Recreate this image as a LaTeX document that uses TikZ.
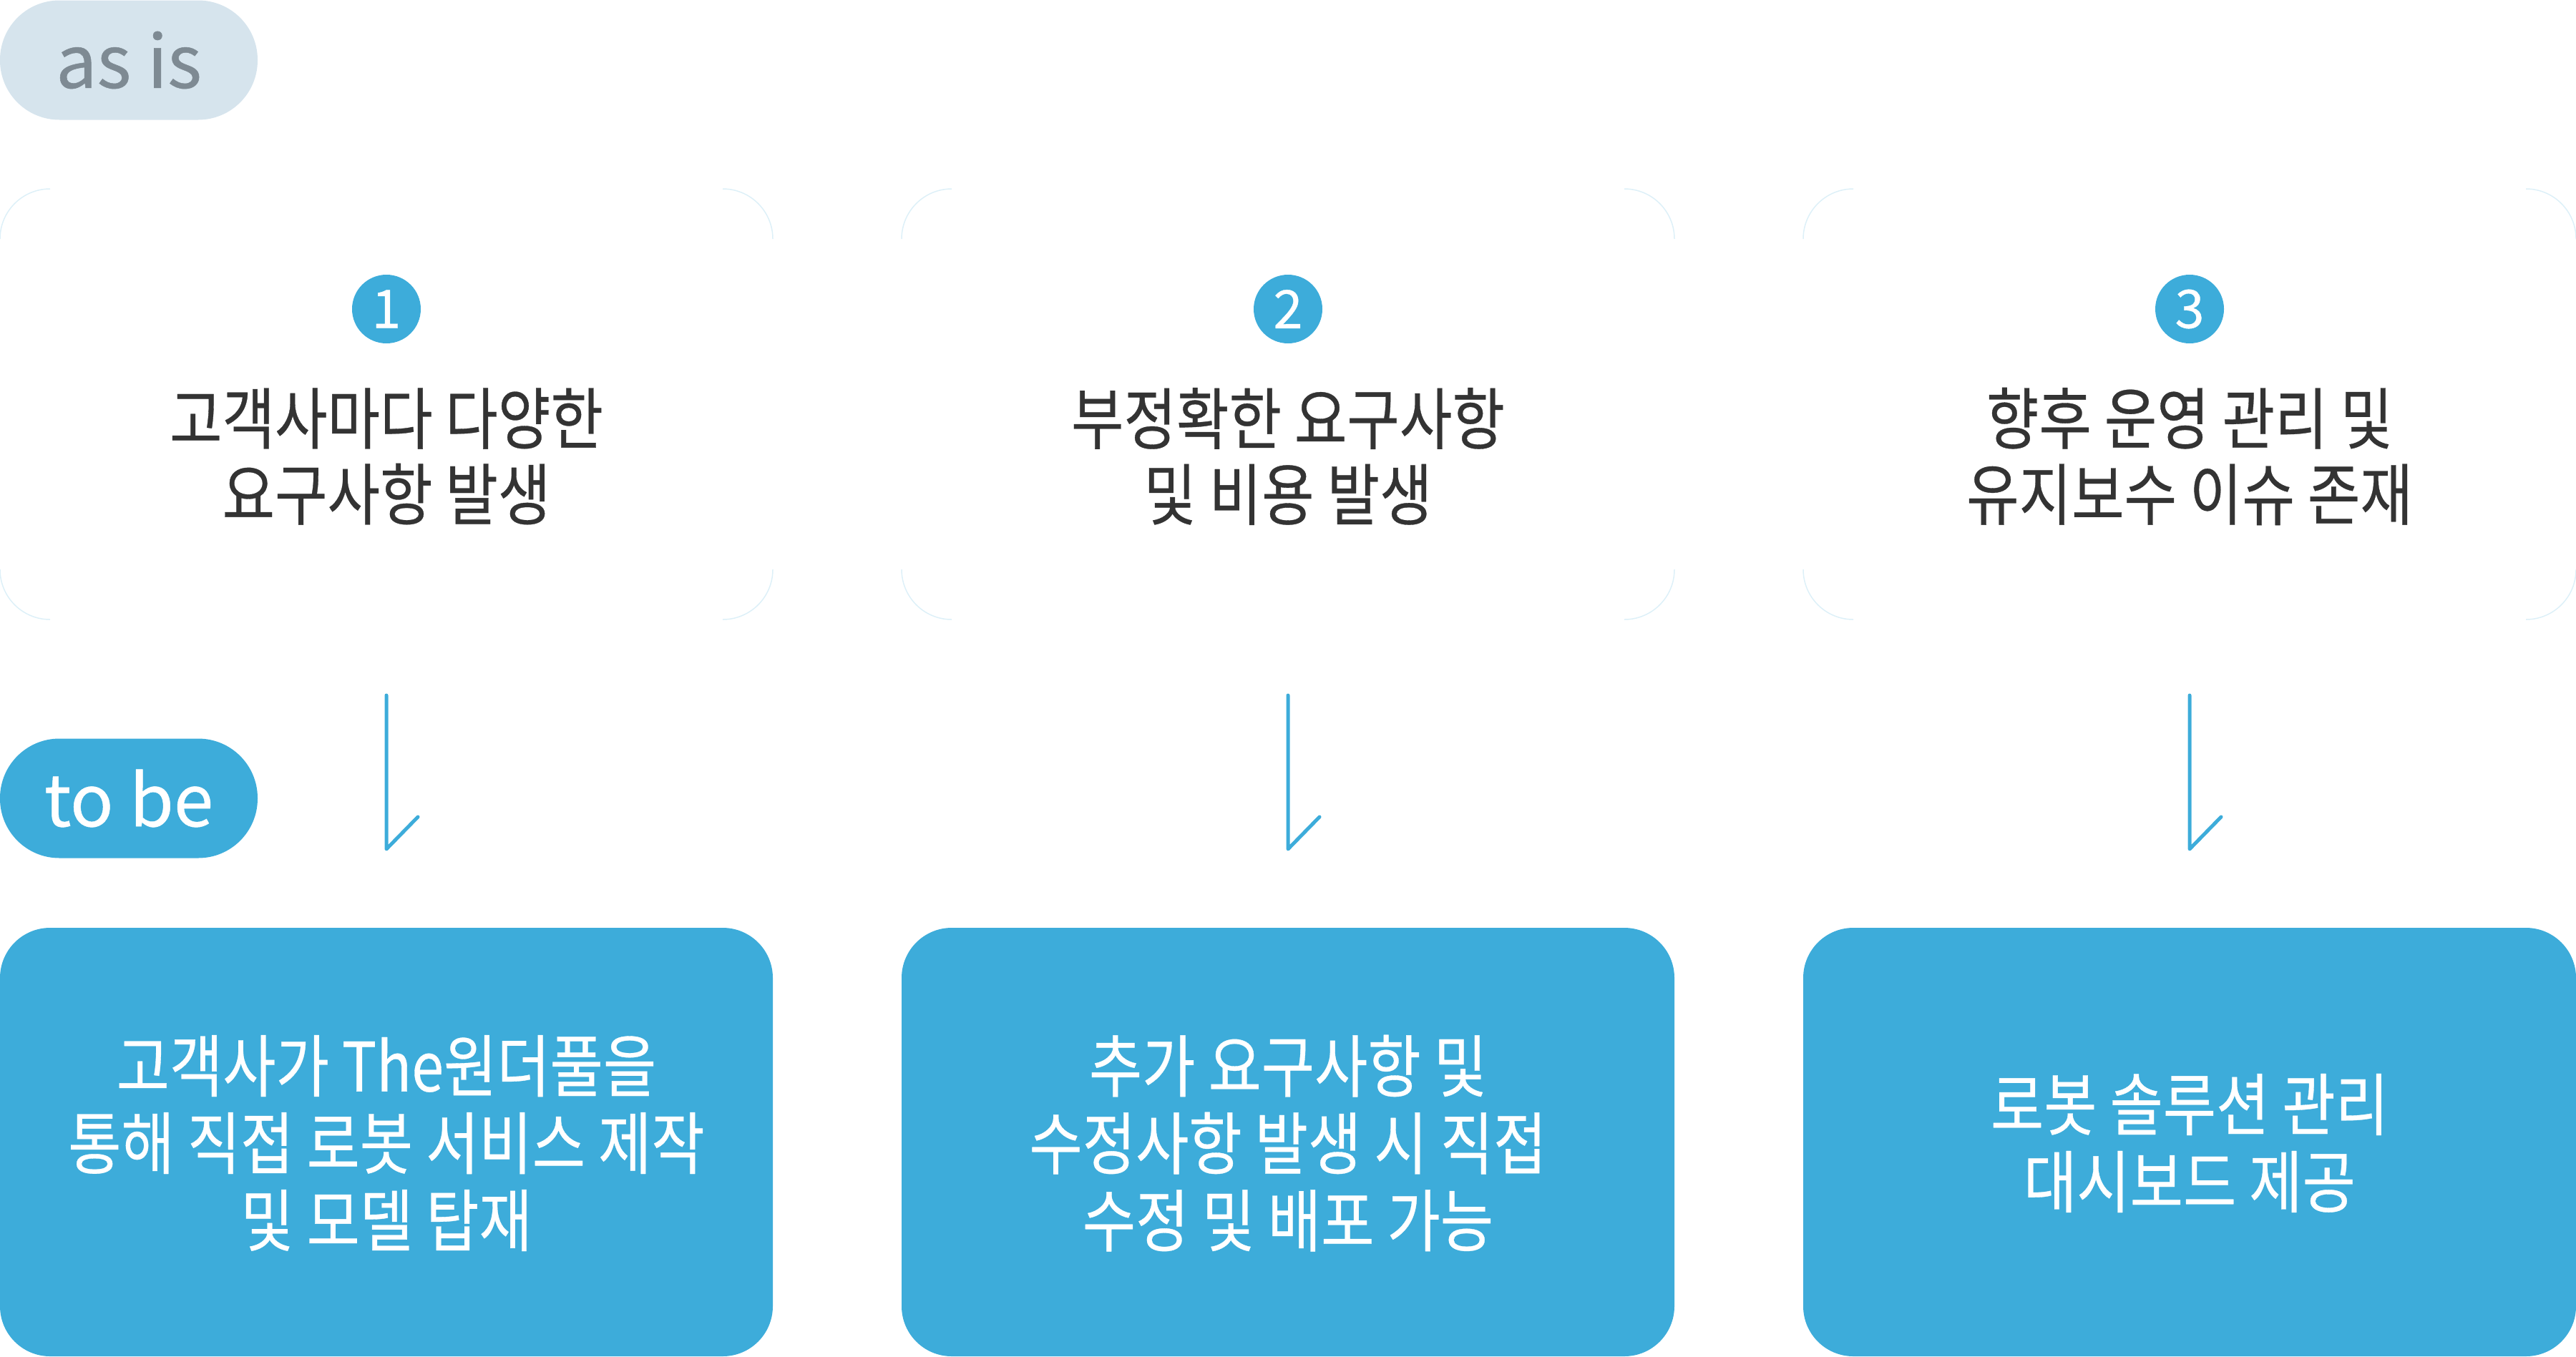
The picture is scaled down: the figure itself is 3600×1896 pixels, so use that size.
\documentclass[tikz,border=0pt]{standalone}
\usepackage{fontspec}
\setmainfont{Noto Sans CJK KR}
\newfontfamily\krfont[FakeStretch=0.85, FakeBold=0.35]{Noto Sans CJK KR}
\newfontfamily\latfont[FakeBold=0.5]{Noto Sans CJK KR}
\definecolor{mainblue}{HTML}{3DACDA}
\definecolor{pillgrey}{HTML}{D6E4ED}
\definecolor{pilltext}{HTML}{7E8A93}
\definecolor{darktext}{HTML}{333333}
\definecolor{cornerblue}{HTML}{DDF0F8}
\tikzset{
  card/.style={minimum width=1080pt, minimum height=602pt, outer sep=0pt, inner sep=0pt, draw=none},
  bluebox/.style={fill=mainblue, rounded corners=70pt, minimum width=1080pt, minimum height=599pt, outer sep=0pt, inner sep=0pt},
  pill/.style={rounded corners=83pt, minimum width=360pt, minimum height=167pt, outer sep=0pt, inner sep=0pt},
  numcircle/.style={circle, fill=mainblue, minimum size=96pt, inner sep=0pt, text=white, font=\latfont\fontsize{74}{80}\selectfont},
  cardtext/.style={align=center, text=darktext, font=\krfont\fontsize{94}{106}\selectfont},
  boxtext/.style={align=center, text=white, font=\krfont\fontsize{95}{108}\selectfont},
  cornerline/.style={draw=cornerblue, line width=1.5pt, rounded corners=70pt},
  flowarrow/.style={draw=mainblue, line width=5pt, line cap=round, line join=round}
}
\begin{document}
\begin{tikzpicture}[x=1pt,y=-1pt]
\useasboundingbox (0,0) rectangle (3600,1896);
% pills
\node[pill, fill=pillgrey, text=pilltext, font=\latfont\fontsize{102}{110}\selectfont] (asis) at (180,84) {as is};
\node[pill, fill=mainblue, text=white, font=\latfont\fontsize{100}{110}\selectfont] (tobe) at (180,1116) {to be};
% cards
\foreach \i/\cx in {1/540, 2/1800, 3/3060} {
  \node[card] (c\i) at (\cx,565) {};
  \draw[cornerline] ([yshift=-70pt]c\i.north west) |- ([xshift=70pt]c\i.north west);
  \draw[cornerline] ([xshift=-70pt]c\i.north east) -| ([yshift=-70pt]c\i.north east);
  \draw[cornerline] ([yshift=70pt]c\i.south west) |- ([xshift=70pt]c\i.south west);
  \draw[cornerline] ([xshift=-70pt]c\i.south east) -| ([yshift=70pt]c\i.south east);
  \node[numcircle] (n\i) at (\cx,432) {\i};
  \node[bluebox] (b\i) at (\cx,1596.5) {};
  \coordinate (as\i) at (\cx,972);
  \coordinate (ae\i) at (\cx,1187);
  \coordinate (ah\i) at (\cx+44,1142);
  \draw[flowarrow] (as\i) -- (ae\i) -- (ah\i);
}
% card texts
\node[cardtext] (t1) at (540,638) {고객사마다 다양한\\요구사항 발생};
\node[cardtext] (t2) at (1800,638) {부정확한 요구사항\\및 비용 발생};
\node[cardtext] (t3) at (3060,638) {향후 운영 관리 및\\유지보수 이슈 존재};
% box texts
\node[boxtext] (bt1) at (540,1598) {고객사가 The원더풀을\\통해 직접 로봇 서비스 제작\\및 모델 탑재};
\node[boxtext] (bt2) at (1800,1598) {추가 요구사항 및\\수정사항 발생 시 직접\\수정 및 배포 가능};
\node[boxtext] (bt3) at (3060,1598) {로봇 솔루션 관리\\대시보드 제공};
\end{tikzpicture}
\end{document}
